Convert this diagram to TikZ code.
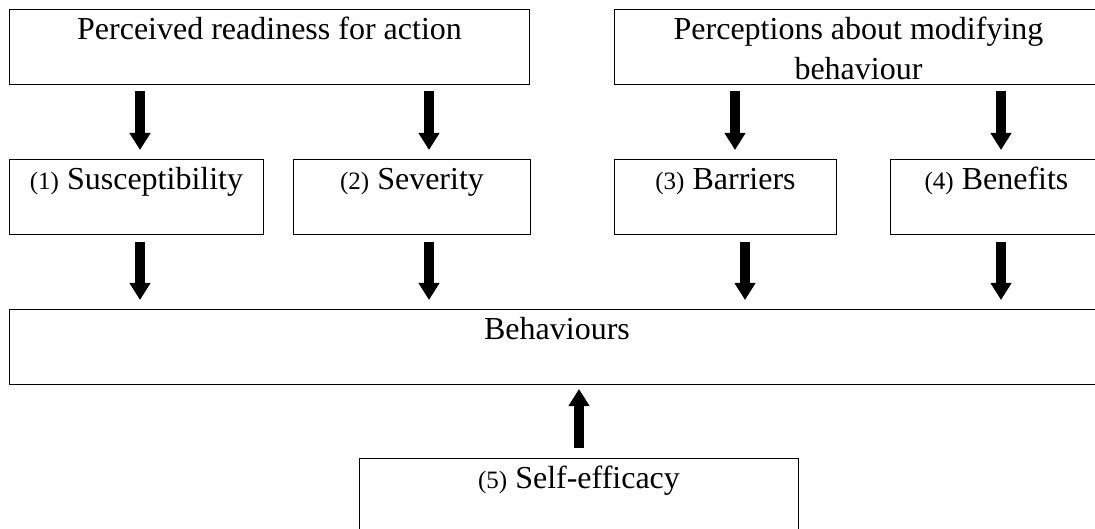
\documentclass[tikz,border=0pt]{standalone}
\usepackage{fontspec}
\setmainfont{Liberation Serif}
\usetikzlibrary{arrows.meta}
\tikzset{
    box/.style={draw,line width=1pt,anchor=north west,inner xsep=0pt,inner ysep=0pt,
        text height=30pt,text depth=45pt,font=\fontsize{32}{40}\selectfont},
    bigarrow/.style={line width=10pt,-{Triangle[width=20pt,length=17pt]}},
}
\newcommand{\itemno}[1]{{\fontsize{25}{30}\selectfont(#1)}}
\begin{document}
\begin{tikzpicture}[x=1pt,y=-1pt]
        % Fix the frame and cut the boxes that run past it
        \useasboundingbox (0,0) rectangle (1095,529);
        \clip (0,0) rectangle (1095,529);
        % Draw top boxes
        \node[box,minimum width=520pt] (readiness) at (9,9) {Perceived readiness for action};
        \node[box,minimum width=488pt] (modifying) at (614,9) {\begin{tabular}[t]{@{}c@{}}Perceptions about modifying\\behaviour\end{tabular}};
        % Draw the four factors
        \node[box,minimum width=254pt] (suscept) at (9,159) {\itemno{1} Susceptibility};
        \node[box,minimum width=237pt] (severity) at (293,159) {\itemno{2} Severity};
        \node[box,minimum width=222pt] (barriers) at (614,159) {\itemno{3} Barriers};
        \node[box,minimum width=212pt] (benefits) at (890,159) {\itemno{4} Benefits};
        % Draw behaviours and self-efficacy
        \node[box,minimum width=1095pt] (behaviours) at (9,309) {Behaviours};
        \node[box,minimum width=439pt] (efficacy) at (359,458) {\itemno{5} Self-efficacy};
        % Draw arrows into the factors
        \draw[bigarrow,shorten <=6pt,shorten >=9pt] ([xshift=131pt]readiness.south west) -- ([xshift=131pt]suscept.north west);
        \draw[bigarrow,shorten <=6pt,shorten >=9pt] ([xshift=420pt]readiness.south west) -- ([xshift=136pt]severity.north west);
        \draw[bigarrow,shorten <=6pt,shorten >=9pt] ([xshift=121pt]modifying.south west) -- ([xshift=121pt]barriers.north west);
        \draw[bigarrow,shorten <=6pt,shorten >=9pt] ([xshift=387pt]modifying.south west) -- ([xshift=111pt]benefits.north west);
        % Draw arrows into behaviours
        \draw[bigarrow,shorten <=7pt,shorten >=9pt] ([xshift=131pt]suscept.south west) -- ([xshift=131pt]behaviours.north west);
        \draw[bigarrow,shorten <=7pt,shorten >=9pt] ([xshift=136pt]severity.south west) -- ([xshift=420pt]behaviours.north west);
        \draw[bigarrow,shorten <=7pt,shorten >=9pt] ([xshift=131pt]barriers.south west) -- ([xshift=736pt]behaviours.north west);
        \draw[bigarrow,shorten <=7pt,shorten >=9pt] ([xshift=111pt]benefits.south west) -- ([xshift=992pt]behaviours.north west);
        % Draw arrow from self-efficacy
        \draw[bigarrow,shorten <=10pt,shorten >=4pt] (efficacy.north) -- (efficacy.north |- behaviours.south);
\end{tikzpicture}
\end{document}
